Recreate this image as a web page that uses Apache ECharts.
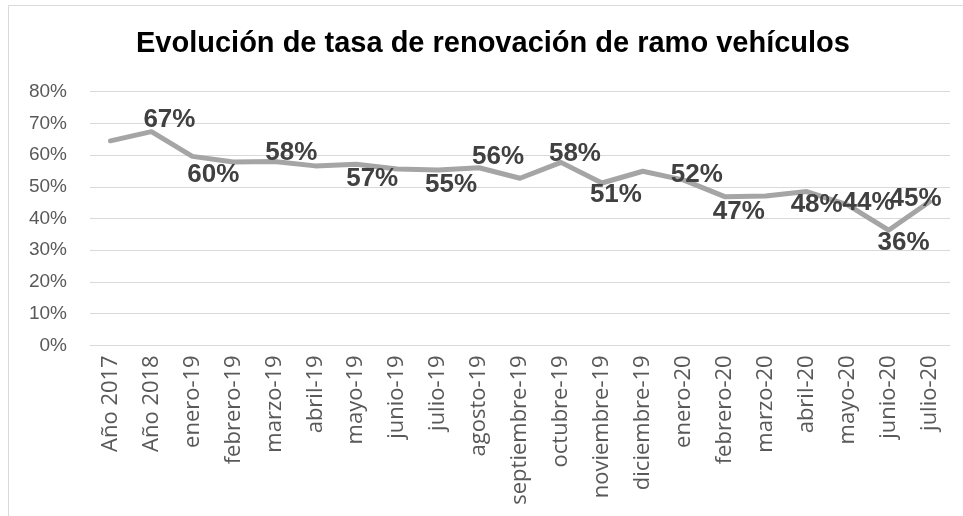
<!DOCTYPE html>
<html>
<head>
<meta charset="utf-8">
<script src="https://cdn.jsdelivr.net/npm/echarts@6/dist/echarts.min.js"></script>
<style>html,body{margin:0;padding:0;background:#fff}#c{width:963px;height:516px}</style>
</head>
<body>
<div id="c"></div>
<script>
var titleText = 'Evolución de tasa de renovación de ramo vehículos';
var categories = ['Año 2017','Año 2018','enero-19','febrero-19','marzo-19','abril-19','mayo-19','junio-19','julio-19','agosto-19','septiembre-19','octubre-19','noviembre-19','diciembre-19','enero-20','febrero-20','marzo-20','abril-20','mayo-20','junio-20','julio-20'];
var values = [0.645,0.674,0.596,0.578,0.580,0.566,0.571,0.556,0.553,0.560,0.527,0.577,0.512,0.549,0.521,0.469,0.471,0.485,0.443,0.363,0.453];
var shownLabels = ['','67%','60%','','58%','','57%','','55%','56%','','58%','51%','','52%','47%','','48%','44%','36%','45%'];
var yTicks = [0,0.1,0.2,0.3,0.4,0.5,0.6,0.7,0.8];

// label placement offsets (dx, dy) relative to the point
var labelOffsets = {1:[18,-12],2:[21,18],4:[17,-9],6:[16,15],8:[13,15],9:[19,-11],11:[14,-9],12:[14,12],14:[13,-5],15:[14,15],17:[10,13],18:[21,-2],19:[15,13],20:[-14,-3]};

var data = values.map(function(v,i){
  var o = {value:v};
  if (shownLabels[i]) {
    o.label = {show:true, position:'inside', formatter: shownLabels[i]};
  }
  return o;
});

var chart = echarts.init(document.getElementById('c'), null, {renderer:'canvas'});
chart.setOption({
  animation:false,
  backgroundColor:'#fff',
  title:{text:titleText, left:131, top:24, textStyle:{fontFamily:'Liberation Sans, Arial', fontWeight:'bold', fontSize:29, color:'#000'}},
  graphic:[{type:'rect', shape:{x:8.5,y:5.5,width:970,height:520}, style:{fill:'none', stroke:'#d9d9d9', lineWidth:1}, silent:true}],
  grid:{left:90, right:13, top:91.7, bottom:170.7, containLabel:false},
  xAxis:{type:'category', data:categories, boundaryGap:true,
    axisLine:{show:true, lineStyle:{color:'#d9d9d9', width:1}},
    axisTick:{show:false},
    axisLabel:{rotate:90, interval:0, margin:10, color:'#595959', fontSize:22, fontFamily:'Open Sans, Noto Sans, sans-serif'}
  },
  yAxis:{type:'value', min:0, max:0.8, interval:0.1,
    axisLine:{show:false}, axisTick:{show:false},
    splitLine:{lineStyle:{color:'#d9d9d9', width:1}},
    axisLabel:{margin:23, color:'#595959', fontSize:19, fontFamily:'Liberation Sans, Arial',
      formatter:function(v){ return Math.round(v*100)+'%'; }}
  },
  series:[{type:'line', data:data, symbol:'circle', symbolSize:2, showSymbol:true, showAllSymbol:true,
    itemStyle:{color:'#a5a5a5'}, smooth:false,
    lineStyle:{color:'#a5a5a5', width:5, cap:'round', join:'round'},
    label:{show:false, color:'#404040', fontSize:26, fontWeight:'bold', fontFamily:'Liberation Sans, Arial'},
    labelLayout:function(p){
      var o = labelOffsets[p.dataIndex] || [0,0];
      return {dx:o[0], dy:o[1], hideOverlap:false};
    }
  }]
});
</script>
</body>
</html>
